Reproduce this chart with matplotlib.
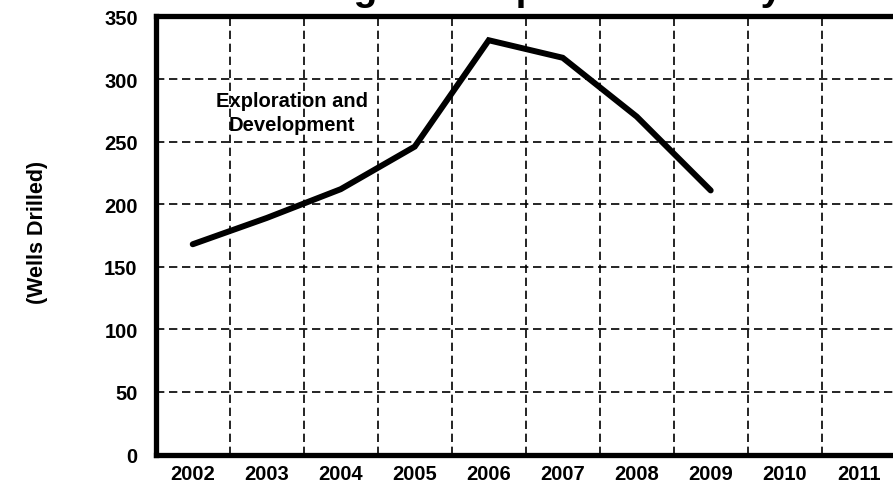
import matplotlib
matplotlib.use("Agg")
import matplotlib.pyplot as plt
import numpy as np

plt.rcParams['font.family'] = ['Liberation Sans', 'DejaVu Sans']
plt.rcParams['font.weight'] = 'bold'

years = ['2002', '2003', '2004', '2005', '2006', '2007', '2008', '2009', '2010', '2011']
wells = [168, 189, 212, 246, 331, 317, 270, 211]  # exploration + development

fig = plt.figure(figsize=(8.93, 4.85), dpi=100)
ax = fig.add_axes([0.1744, 0.0608, 0.8286, 0.9032])

x = np.arange(len(wells))
ax.plot(x, wells, color='black', lw=4.3, solid_capstyle='round', solid_joinstyle='miter', zorder=3)

ax.set_xlim(-0.5, len(years) - 0.5)
ax.set_ylim(0, 350)
ax.set_xticks(np.arange(len(years)))
ax.set_xticklabels(years, fontsize=14.5, fontweight='bold')
ax.set_xticks(np.arange(len(years) - 1) + 0.5, minor=True)
ax.set_yticks(np.arange(0, 351, 50))
ax.set_yticklabels([str(v) for v in range(0, 351, 50)], fontsize=14.5, fontweight='bold')

ax.tick_params(axis='x', which='major', length=0, pad=7)
ax.tick_params(axis='x', which='minor', length=0)
ax.tick_params(axis='y', length=2, width=1.5, direction='in', pad=13)

ax.grid(True, axis='y', which='major', color='black', ls=(0, (5, 2.8)), lw=1.2)
ax.grid(True, axis='x', which='minor', color='black', ls=(0, (5, 2.8)), lw=1.2)

for s in ['left', 'bottom', 'top', 'right']:
    ax.spines[s].set_linewidth(3.8)

ax.text(1.34, 273.5, 'Exploration and\nDevelopment', ha='center', va='center',
        fontsize=14.5, fontweight='bold', linespacing=1.35)

ax.set_ylabel('(Wells Drilled)', fontsize=15.5, fontweight='bold')
ax.yaxis.set_label_coords(-0.146, 0.51)

fig.text(0.5745, 0.999, 'Drilling Development Activity', ha='center', va='baseline',
         fontsize=28, fontweight='bold')

fig.savefig('out.png', dpi=100)
